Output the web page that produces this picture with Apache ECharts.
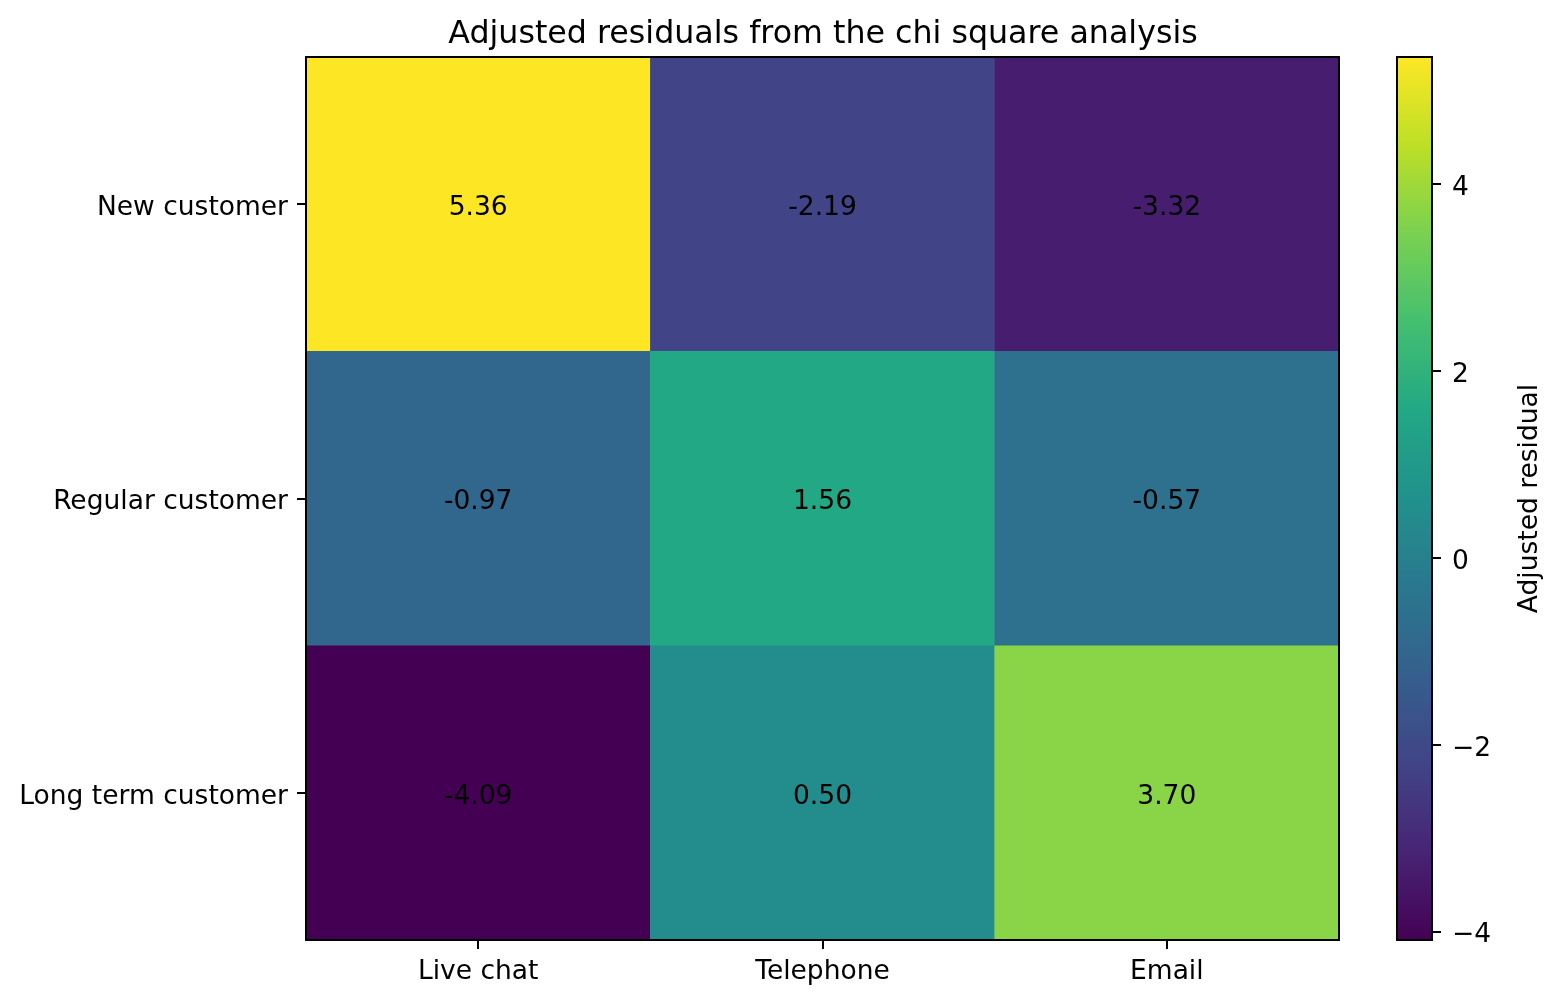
<!DOCTYPE html>
<html><head><meta charset="utf-8">
<script src="https://cdn.jsdelivr.net/npm/echarts@6/dist/echarts.min.js"></script>
<style>html,body{margin:0;padding:0;background:#fff}#c{width:1560px;height:1003px}</style>
</head><body><div id="c"></div>
<script>
const channels = ['Live chat', 'Telephone', 'Email'];
const customerTypes = ['New customer', 'Regular customer', 'Long term customer'];
const residuals = [
  [5.36, -2.19, -3.32],
  [-0.97, 1.56, -0.57],
  [-4.09, 0.50, 3.70]
];
const colorbarTicks = [-4, -2, 0, 2, 4];
const viridis = ['#440154','#482475','#414487','#355f8d','#2a788e','#21918c','#22a884','#44bf70','#7ad151','#bddf26','#fde725'];

const data = [];
residuals.forEach((row, i) => row.forEach((v, j) => data.push([j, i, v])));
const all = residuals.flat();
const vmin = Math.min(...all), vmax = Math.max(...all);
const FONT = 'DejaVu Sans';
const FS = 26.5;
const LW = 2;
const fmt = v => (v < 0 ? '\u2212' : '') + Math.abs(v);
const shifted = {t: {fontSize: FS, fontFamily: FONT, color: '#000', padding: [8, 0, 0, 0]}};

const chart = echarts.init(document.getElementById('c'), null, {renderer: 'canvas'});
chart.setOption({
  animation: false,
  backgroundColor: '#fff',
  textStyle: {fontFamily: FONT},
  title: {
    text: 'Adjusted residuals from the chi square analysis',
    left: 818, top: 14, textAlign: 'center',
    textStyle: {fontFamily: FONT, fontSize: 31.7, fontWeight: 'normal', color: '#000'}
  },
  grid: [
    {left: 306, top: 57, width: 1033, height: 883},
    {left: 1397, top: 57, width: 35, height: 883, show: false}
  ],
  xAxis: [
    {gridIndex: 0, type: 'category', data: channels, position: 'bottom',
     axisLine: {show: true, lineStyle: {color: '#000', width: LW}},
     axisTick: {show: true, alignWithLabel: true, length: 9, lineStyle: {color: '#000', width: LW}},
     axisLabel: {color: '#000', fontSize: FS, fontFamily: FONT, margin: 19},
     splitLine: {show: false}, z: 10},
    {gridIndex: 0, type: 'category', data: channels, position: 'top',
     axisLine: {show: true, lineStyle: {color: '#000', width: LW}},
     axisTick: {show: false}, axisLabel: {show: false}, z: 10},
    {gridIndex: 1, type: 'value', min: 0, max: 1, show: true,
     axisLine: {show: true, onZero: false, lineStyle: {color: '#000', width: LW}},
     axisTick: {show: false}, axisLabel: {show: false}, splitLine: {show: false}, z: 10},
    {gridIndex: 1, type: 'value', min: 0, max: 1, show: true, position: 'top',
     axisLine: {show: true, onZero: false, lineStyle: {color: '#000', width: LW}},
     axisTick: {show: false}, axisLabel: {show: false}, splitLine: {show: false}, z: 10}
  ],
  yAxis: [
    {gridIndex: 0, type: 'category', data: customerTypes, inverse: true, position: 'left',
     axisLine: {show: true, lineStyle: {color: '#000', width: LW}},
     axisTick: {show: true, alignWithLabel: true, length: 9, lineStyle: {color: '#000', width: LW}},
     axisLabel: {color: '#000', fontSize: FS, fontFamily: FONT, margin: 18,
                 formatter: v => '{t|' + v + '}', rich: shifted},
     splitLine: {show: false}, z: 10},
    {gridIndex: 0, type: 'category', data: customerTypes, inverse: true, position: 'right',
     axisLine: {show: true, lineStyle: {color: '#000', width: LW}},
     axisTick: {show: false}, axisLabel: {show: false}, z: 10},
    {gridIndex: 1, type: 'value', min: vmin, max: vmax, position: 'right',
     axisLine: {show: true, onZero: false, lineStyle: {color: '#000', width: LW}},
     axisTick: {show: true, length: 9, customValues: colorbarTicks, lineStyle: {color: '#000', width: LW}},
     axisLabel: {color: '#000', fontSize: FS, fontFamily: FONT, margin: 20,
                 customValues: colorbarTicks, formatter: v => '{t|' + fmt(v) + '}', rich: shifted},
     splitLine: {show: false},
     name: 'Adjusted residual', nameLocation: 'middle', nameRotate: 90, nameGap: 85,
     nameTextStyle: {color: '#000', fontSize: FS, fontFamily: FONT}, z: 10},
    {gridIndex: 1, type: 'value', min: vmin, max: vmax, position: 'left',
     axisLine: {show: true, onZero: false, lineStyle: {color: '#000', width: LW}},
     axisTick: {show: false}, axisLabel: {show: false}, splitLine: {show: false}, z: 10}
  ],
  visualMap: {
    type: 'continuous', min: vmin, max: vmax, calculable: false, realtime: false,
    seriesIndex: 0, orient: 'vertical', left: 1397, top: 57, padding: 0,
    itemWidth: 35, itemHeight: 883, text: null, showLabel: false,
    inRange: {color: viridis}, hoverLink: false
  },
  series: [{
    type: 'heatmap', xAxisIndex: 0, yAxisIndex: 0, data: data,
    label: {show: true, color: '#000', fontSize: FS, fontFamily: FONT, offset: [0, 4],
            formatter: p => p.value[2].toFixed(2)},
    itemStyle: {borderWidth: 0},
    emphasis: {disabled: true}
  }]
});
</script></body></html>
